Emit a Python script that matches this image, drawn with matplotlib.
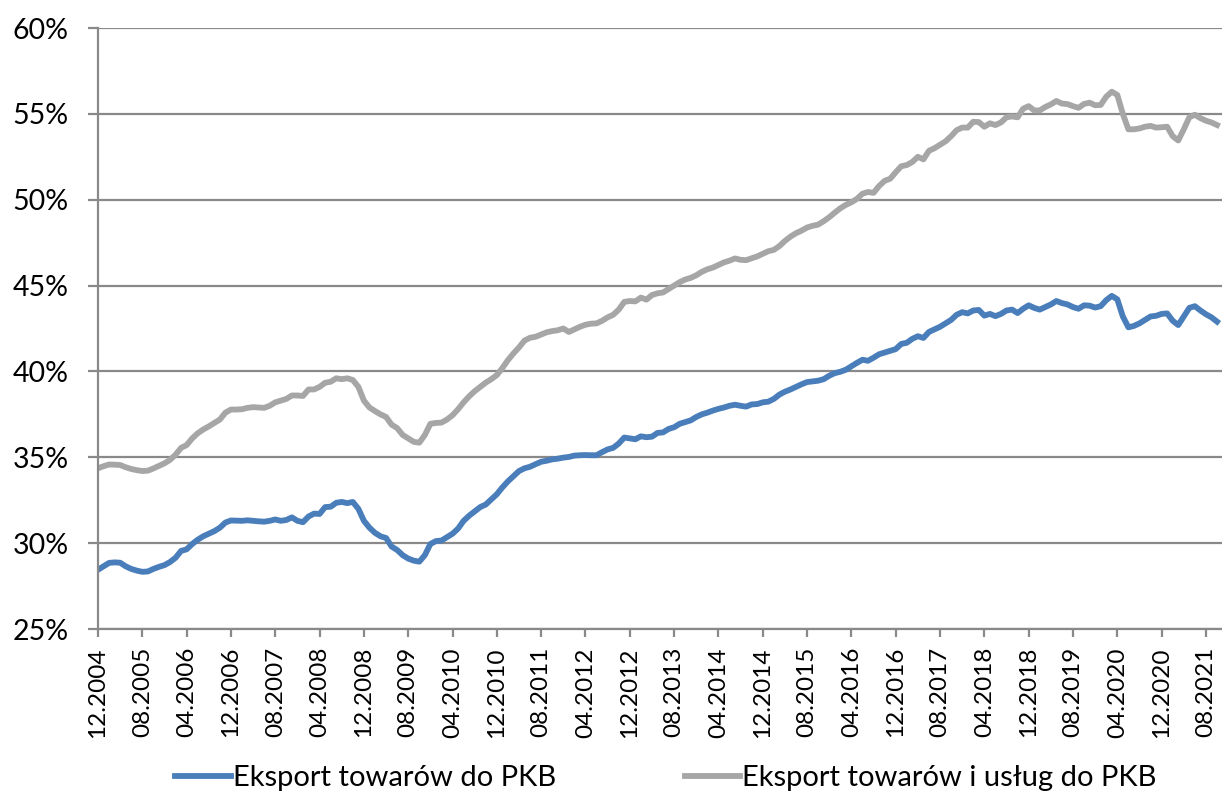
import matplotlib.pyplot as plt
from matplotlib.ticker import FuncFormatter

# miesieczne dane od 12.2004 do 10.2021 (w %)
towary = [
    28.45, 28.65, 28.85, 28.88, 28.86, 28.65, 28.50, 28.40, 28.33, 28.35,
    28.50, 28.62, 28.72, 28.90, 29.15, 29.55, 29.64, 29.95, 30.20, 30.40,
    30.55, 30.70, 30.90, 31.20, 31.32, 31.31, 31.30, 31.33, 31.30, 31.27,
    31.25, 31.30, 31.38, 31.30, 31.35, 31.50, 31.30, 31.22, 31.55, 31.72,
    31.70, 32.10, 32.12, 32.35, 32.40, 32.33, 32.40, 32.00, 31.30, 30.90,
    30.60, 30.40, 30.30, 29.80, 29.60, 29.30, 29.10, 28.98, 28.92, 29.30,
    29.95, 30.12, 30.15, 30.35, 30.55, 30.85, 31.30, 31.60, 31.85, 32.10,
    32.25, 32.55, 32.85, 33.25, 33.60, 33.90, 34.20, 34.36, 34.45, 34.60,
    34.74, 34.80, 34.88, 34.92, 34.98, 35.02, 35.10, 35.12, 35.13, 35.12,
    35.12, 35.30, 35.46, 35.55, 35.80, 36.15, 36.10, 36.05, 36.22, 36.17,
    36.20, 36.42, 36.45, 36.65, 36.75, 36.95, 37.05, 37.15, 37.35, 37.50,
    37.60, 37.72, 37.82, 37.90, 38.00, 38.06, 38.00, 37.95, 38.08, 38.10,
    38.20, 38.24, 38.40, 38.65, 38.82, 38.95, 39.10, 39.25, 39.38, 39.42,
    39.46, 39.55, 39.75, 39.90, 39.98, 40.10, 40.30, 40.50, 40.68, 40.62,
    40.80, 41.00, 41.10, 41.20, 41.30, 41.60, 41.67, 41.90, 42.05, 41.95,
    42.30, 42.45, 42.60, 42.80, 43.00, 43.30, 43.45, 43.38, 43.55, 43.58,
    43.25, 43.35, 43.22, 43.35, 43.55, 43.60, 43.40, 43.65, 43.85, 43.70,
    43.60, 43.75, 43.90, 44.10, 43.98, 43.90, 43.75, 43.65, 43.85, 43.83,
    43.72, 43.80, 44.15, 44.40, 44.20, 43.20, 42.57, 42.65, 42.80, 43.00,
    43.20, 43.24, 43.35, 43.38, 42.95, 42.70, 43.20, 43.70, 43.80, 43.55,
    43.33, 43.15, 42.90,
]

towary_uslugi = [
    34.36, 34.48, 34.58, 34.57, 34.55, 34.42, 34.32, 34.25, 34.20, 34.22,
    34.35, 34.50, 34.65, 34.85, 35.15, 35.55, 35.71, 36.10, 36.40, 36.62,
    36.80, 37.00, 37.20, 37.60, 37.78, 37.78, 37.80, 37.88, 37.92, 37.90,
    37.88, 38.00, 38.20, 38.30, 38.40, 38.60, 38.60, 38.57, 38.95, 38.95,
    39.10, 39.34, 39.40, 39.60, 39.55, 39.60, 39.50, 39.10, 38.30, 37.90,
    37.69, 37.50, 37.35, 36.90, 36.70, 36.30, 36.10, 35.90, 35.85, 36.30,
    36.95, 37.00, 37.02, 37.20, 37.45, 37.80, 38.20, 38.55, 38.85, 39.10,
    39.35, 39.55, 39.79, 40.20, 40.66, 41.05, 41.40, 41.80, 41.96, 42.02,
    42.15, 42.28, 42.35, 42.40, 42.50, 42.30, 42.45, 42.60, 42.72, 42.78,
    42.80, 42.95, 43.15, 43.30, 43.60, 44.05, 44.10, 44.08, 44.30, 44.18,
    44.45, 44.55, 44.60, 44.80, 45.00, 45.20, 45.35, 45.45, 45.60, 45.80,
    45.95, 46.05, 46.20, 46.35, 46.45, 46.58, 46.50, 46.48, 46.59, 46.70,
    46.85, 47.00, 47.08, 47.30, 47.60, 47.85, 48.05, 48.20, 48.38, 48.48,
    48.55, 48.75, 48.98, 49.25, 49.50, 49.70, 49.85, 50.05, 50.35, 50.45,
    50.40, 50.80, 51.10, 51.22, 51.60, 51.95, 52.02, 52.20, 52.50, 52.35,
    52.85, 53.00, 53.20, 53.40, 53.70, 54.05, 54.20, 54.20, 54.54, 54.52,
    54.25, 54.45, 54.35, 54.50, 54.80, 54.85, 54.80, 55.30, 55.45, 55.20,
    55.20, 55.40, 55.55, 55.75, 55.60, 55.57, 55.45, 55.35, 55.58, 55.65,
    55.50, 55.52, 56.00, 56.29, 56.10, 55.00, 54.10, 54.10, 54.15, 54.25,
    54.30, 54.20, 54.22, 54.25, 53.70, 53.45, 54.10, 54.80, 54.95, 54.75,
    54.60, 54.50, 54.35,
]

# etykiety miesiecy MM.RRRR
miesiace = []
rok, mies = 2004, 12
for k in range(len(towary)):
    miesiace.append("%02d.%d" % (mies, rok))
    mies += 1
    if mies > 12:
        mies = 1
        rok += 1

plt.rcParams['font.family'] = ['Lato', 'DejaVu Sans']

fig = plt.figure(figsize=(12.22, 7.91), dpi=100)
ax = fig.add_axes([0.0802, 0.2048, 0.9198, 0.7598])

x = list(range(len(towary)))
l1, = ax.plot(x, towary, color="#4A7EBB", linewidth=4.2, solid_joinstyle="round",
              label="Eksport towarów do PKB")
l2, = ax.plot(x, towary_uslugi, color="#A6A6A6", linewidth=4.2, solid_joinstyle="round",
              label="Eksport towarów i usług do PKB")

ax.set_ylim(25, 60)
ax.set_yticks(range(25, 61, 5))
ax.yaxis.set_major_formatter(FuncFormatter(lambda v, p: "%d%%" % v))
ax.set_xlim(0, 202.9)
ticks = list(range(0, len(towary), 8))
ax.set_xticks(ticks)
ax.set_xticklabels([miesiace[t] for t in ticks], rotation=90)

grid_col = "#898989"
ax.grid(axis="y", color=grid_col, linewidth=1.6)
ax.set_axisbelow(True)
for s in ["top", "right"]:
    ax.spines[s].set_visible(False)
for s in ["left", "bottom"]:
    ax.spines[s].set_color(grid_col)
    ax.spines[s].set_linewidth(1.6)
ax.tick_params(axis="y", length=7, width=1.6, color=grid_col, pad=14, labelsize=20.5)
ax.tick_params(axis="x", length=6, width=1.6, color=grid_col, pad=7, labelsize=17.5)

fig.legend(handles=[l1, l2], loc="center", bbox_to_anchor=(0.545, 0.016), ncol=2,
           frameon=False, fontsize=21, handlelength=1.9, handletextpad=0.08,
           columnspacing=4.4)

fig.savefig("out.png", dpi=100)
